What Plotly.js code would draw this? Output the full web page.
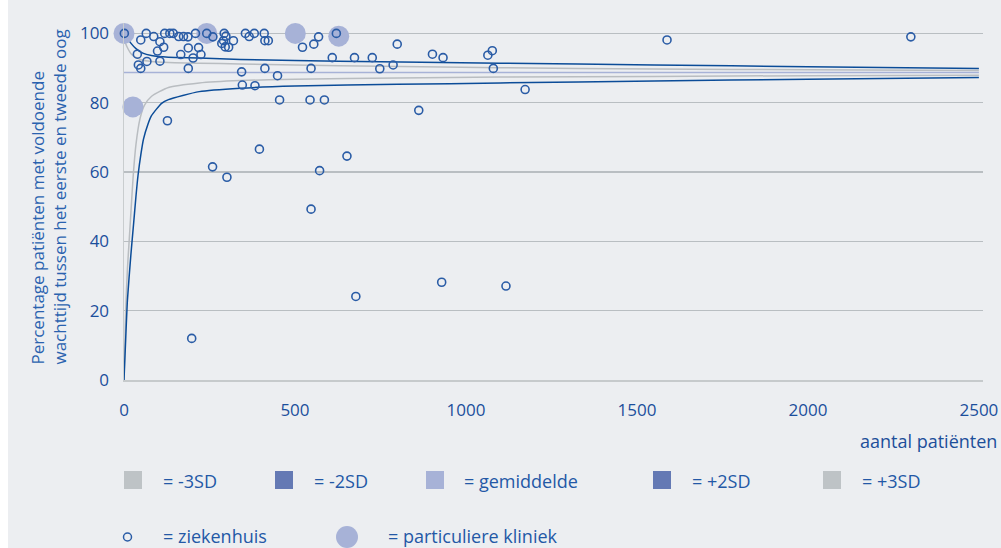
<!DOCTYPE html>
<html>
<head>
<meta charset="utf-8">
<script src="https://cdn.plot.ly/plotly-3.0.1.min.js"></script>
<style>html,body{margin:0;padding:0;background:#ECEEF1;}#chart{width:1001px;height:548px;}</style>
</head>
<body>
<div id="chart"></div>
<script>
// ---- data ----
const ziekenhuisN = [1, 65, 49, 87, 119, 134, 144, 160, 174, 187, 209, 242, 260, 293, 298, 291, 286, 320, 296, 306,
  355, 366, 381, 410, 412, 422, 522, 555, 569, 621, 799, 105, 116, 98, 39, 67, 42, 49, 105, 166,
  188, 202, 218, 225, 188, 344, 412, 449, 346, 383, 455, 544, 586, 127, 609, 674, 726, 547, 748, 787,
  902, 933, 862, 1064, 1077, 1080, 1173, 1588, 2301, 259, 301, 396, 547, 572, 652, 678, 929, 1117, 198];
const ziekenhuisPct = [100, 100, 98.1, 99.1, 100, 100, 100, 99.1, 99.1, 99, 100, 100, 99, 100, 99.2, 97.9, 97.1, 97.9, 96.1, 96,
  100, 99.1, 100, 100, 97.9, 97.9, 96, 96.9, 99, 100, 96.9, 97.6, 96, 94.9, 94, 91.9, 90.9, 89.9, 92, 93.9,
  95.8, 92.9, 95.9, 93.9, 89.9, 88.9, 89.9, 87.8, 85.1, 84.9, 80.8, 80.8, 80.8, 74.8, 93, 93, 93, 89.9, 89.8, 90.9,
  94, 93, 77.8, 93.7, 95, 89.9, 83.8, 98.1, 99, 61.5, 58.5, 66.6, 49.3, 60.4, 64.6, 24.1, 28.2, 27.1, 12];

const kliniekN = [0, 242, 501, 628, 26];
const kliniekPct = [100, 100, 100, 99.2, 78.8];

const plus3N = [0, 10, 20, 35, 55, 80, 130, 220, 340, 500, 750, 1100, 1550, 2000, 2500];
const plus3Pct = [100, 98.6, 97.2, 95.6, 94.3, 93.6, 93.1, 92.9, 92.5, 92.2, 91.8, 91.4, 90.9, 90.4, 89.9];

const plus2N = [0, 5, 12, 20, 32, 50, 80, 130, 220, 340, 500, 750, 1100, 1550, 2000, 2500];
const plus2Pct = [100, 97, 95.5, 94.2, 93.2, 92.4, 91.9, 91.6, 91.4, 91.2, 90.9, 90.5, 90.1, 89.7, 89.5, 89.3];

const gemN = [0, 2500];
const gemPct = [88.75, 88.75];

const min2N = [0, 5, 10, 15, 20, 27, 35, 47, 60, 80, 130, 220, 340, 500, 800, 1100, 1550, 2000, 2500];
const min2Pct = [0, 20, 32, 40, 48, 59, 68, 75.5, 79.3, 81.8, 84.4, 85.7, 86.4, 86.8, 87.1, 87.4, 87.6, 87.8, 87.9];

const min3N = [0, 5, 10, 20, 28, 35, 41, 50, 57, 70, 80, 110, 130, 220, 340, 500, 800, 1100, 1550, 2000, 2500];
const min3Pct = [0, 12, 23, 36, 45, 53, 59, 65.5, 69.5, 73.8, 76.2, 79.8, 80.9, 83.2, 84.2, 84.8, 85.3, 85.7, 86.3, 86.8, 87.3];

const xTicks = [0, 500, 1000, 1500, 2000, 2500];
const yTicks = [0, 20, 40, 60, 80, 100];

const legendRow1 = ['= -3SD', '= -2SD', '= gemiddelde', '= +2SD', '= +3SD'];
const legendRow1Colors = ['#BEC3C6', '#6479B4', '#A7B2D7', '#6479B4', '#BEC3C6'];
const legendRow2 = ['= ziekenhuis', '= particuliere kliniek'];
const xTitle = 'aantal patiënten';
const yTitle = 'Percentage patiënten met voldoende<br>wachttijd tussen het eerste en tweede oog';

// ---- styling / layout ----
const FONT = 'Open Sans, Liberation Sans, Arial, sans-serif';
const DARK = '#0B4C98', GRAY = '#B9BDC1', LIGHT = '#A7B2D7';
const L = 124, R = 983, T = 23, B = 380;
const px = v => (v - L) / (R - L);
const py = v => (B - v) / (B - T);

function curve(x, y, color) {
  return {x: x, y: y, type: 'scatter', mode: 'lines', hoverinfo: 'skip', cliponaxis: false,
    line: {color: color, width: 1.5, shape: 'spline', smoothing: 0.6}};
}

const traces = [
  curve(min2N, min2Pct, GRAY),
  curve(plus2N, plus2Pct, GRAY),
  curve(gemN, gemPct, LIGHT),
  curve(min3N, min3Pct, DARK),
  curve(plus3N, plus3Pct, DARK),
  {x: kliniekN, y: kliniekPct, type: 'scatter', mode: 'markers', cliponaxis: false,
   marker: {symbol: 'circle', size: 21, color: LIGHT, line: {width: 0}}},
  {x: ziekenhuisN, y: ziekenhuisPct, type: 'scatter', mode: 'markers', cliponaxis: false,
   marker: {symbol: 'circle-open', size: 8, color: '#2A5CA6', line: {width: 1.6, color: '#2A5CA6'}}}
];

const shapes = [
  {type: 'rect', xref: 'paper', yref: 'paper', x0: px(0), x1: px(8), y0: py(548), y1: py(0),
   fillcolor: '#FFFFFF', line: {width: 0}, layer: 'below'}
];
const annotations = [
  {text: yTitle, xref: 'paper', yref: 'paper', x: px(48), y: py(367), xanchor: 'center', yanchor: 'bottom',
   textangle: -90, align: 'left', showarrow: false, font: {family: FONT, size: 17, color: '#2A62AF'}},
  {text: xTitle, xref: 'paper', yref: 'paper', x: px(999), y: py(441), xanchor: 'right', yanchor: 'middle',
   showarrow: false, font: {family: FONT, size: 18, color: '#1D4F9A'}}
];

const sqX = [124, 275, 426, 653, 823];
const txX = [161, 312, 462, 690, 860];
legendRow1.forEach((t, i) => {
  shapes.push({type: 'rect', xref: 'paper', yref: 'paper', x0: px(sqX[i]), x1: px(sqX[i] + 18),
    y0: py(489), y1: py(471), fillcolor: legendRow1Colors[i], line: {width: 0}});
  annotations.push({text: t, xref: 'paper', yref: 'paper', x: px(txX[i]), y: py(481), xanchor: 'left',
    yanchor: 'middle', showarrow: false, font: {family: FONT, size: 18, color: '#2358A6'}});
});
shapes.push({type: 'circle', xref: 'paper', yref: 'paper', x0: px(123.5), x1: px(131.5), y0: py(541), y1: py(533),
  line: {color: '#2A5CA6', width: 1.5}});
shapes.push({type: 'circle', xref: 'paper', yref: 'paper', x0: px(336), x1: px(358), y0: py(548), y1: py(526),
  fillcolor: LIGHT, line: {width: 0}});
[161, 386].forEach((xx, i) => {
  annotations.push({text: legendRow2[i], xref: 'paper', yref: 'paper', x: px(xx), y: py(536), xanchor: 'left',
    yanchor: 'middle', showarrow: false, font: {family: FONT, size: 18, color: '#2358A6'}});
});

const layout = {
  width: 1001, height: 548, autosize: false,
  margin: {l: L, r: 1001 - R, t: T, b: 548 - B, pad: 0},
  paper_bgcolor: '#ECEEF1', plot_bgcolor: '#ECEEF1',
  showlegend: false,
  xaxis: {range: [0, 2512], tickvals: xTicks, ticktext: xTicks.map(String), showgrid: false, zeroline: false,
    showline: true, linecolor: '#C6CACC', linewidth: 2, ticks: '', ticklabelstandoff: 14,
    tickfont: {family: FONT, size: 17, color: '#1B4F9C'}, fixedrange: true},
  yaxis: {range: [0, 103], tickvals: yTicks, ticktext: yTicks.map(String), showgrid: true, gridcolor: '#B9BEC2',
    gridwidth: 1.5, zeroline: false, showline: true, linecolor: '#C9CDCF', linewidth: 1.5, ticks: '',
    ticklabelstandoff: 10, tickfont: {family: FONT, size: 17, color: '#1B4F9C'}, fixedrange: true},
  shapes: shapes,
  annotations: annotations
};

Plotly.newPlot('chart', traces, layout, {displayModeBar: false, staticPlot: true});
</script>
</body>
</html>
